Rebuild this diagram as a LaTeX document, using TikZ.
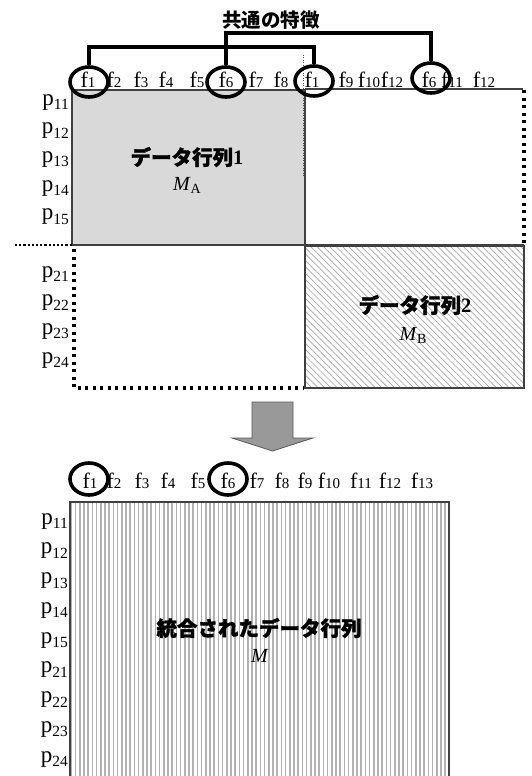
\documentclass[tikz,border=0pt]{standalone}
\usepackage{fontspec}
\setmainfont{Liberation Serif}
\newfontfamily\cjk{Noto Sans CJK JP}
\newfontfamily\cjkh{Noto Sans CJK JP}[BoldFeatures={FakeBold=1.6}]
\usetikzlibrary{shapes.geometric,patterns.meta,calc}
\newcommand\fl[1]{f{\fontsize{15}{15}\selectfont #1}}
\newcommand\pl[1]{p\raisebox{-4.5pt}{\fontsize{15.5}{15.5}\selectfont #1}}
\newcommand\msub[1]{\textit{M}\raisebox{-3pt}{\fontsize{14}{14}\selectfont #1}}
\tikzset{
  feat/.style={font=\fontsize{22}{22}\selectfont, inner sep=0pt, anchor=base},
  rowlab/.style={font=\fontsize{23}{23}\selectfont, inner sep=0pt, anchor=base east},
  ring/.style={ellipse, draw, line width=3.6pt, minimum width=38pt, minimum height=30pt, inner sep=0pt},
  bracket/.style={line width=3.4pt},
  bigdots/.style={line width=3.4pt, dash pattern=on 3.4pt off 4.1pt},
  smalldots/.style={line width=2.2pt, dash pattern=on 2.2pt off 2pt},
  title/.style={font=\cjkh\bfseries\fontsize{20.5}{20.5}\selectfont, inner sep=0pt},
  mlab/.style={font=\fontsize{20}{20}\selectfont, inner sep=0pt},
  frame/.style={draw=black!75, line width=1.1pt}
}
\begin{document}
\begin{tikzpicture}[x=1pt,y=-1pt]
\useasboundingbox (0,0) rectangle (532,776);
\clip (0,0) rectangle (532,776);

% ---------- top part ----------
\node[font=\cjk\bfseries\fontsize{19.5}{19.5}\selectfont, inner sep=0pt] (head) at (271,20) {共通の特徴};

% matrix A
\fill[black!15] (72,90) rectangle (305,245);
\draw[frame] (72,90) rectangle (305,245);
% right empty box
\draw[frame] (305,89) -- (523,89);
\draw[frame] (305,245) -- (524,245);
\draw[bigdots] (524,90) -- (524,246);
% thin dotted separator
\draw[black!70, line width=1pt, dash pattern=on 1pt off 1.5pt] (303.5,55) -- (303.5,177);
% left dotted
\draw[smalldots] (15,245) -- (72,245);
% matrix B
\fill[white] (305,246) rectangle (524,388);
\path[pattern={Lines[angle=-45,distance=4.5pt,line width=0.7pt]}, pattern color=black!35] (305,246) rectangle (524,388);
\draw[frame] (305,246) rectangle (524,388);
% bottom-left dotted box
\draw[bigdots] (74,249) -- (74,388) -- (303,388);

% feature labels top
\node[feat] (a1) at (88,88) {\fl{1}};
\node[feat] (a2) at (114,88) {\fl{2}};
\node[feat] (a3) at (141,88) {\fl{3}};
\node[feat] (a4) at (166,88) {\fl{4}};
\node[feat] (a5) at (197,88) {\fl{5}};
\node[feat] (a6) at (226,88) {\fl{6}};
\node[feat] (a7) at (256,88) {\fl{7}};
\node[feat] (a8) at (281,88) {\fl{8}};
\node[feat] (b1) at (312,88) {\fl{1}};
\node[feat] (b9) at (346,88) {\fl{9}};
\node[feat] (b10) at (369,88) {\fl{10}};
\node[feat] (b12a) at (392,88) {\fl{12}};
\node[feat] (b6) at (429,88) {\fl{6}};
\node[feat] (b11) at (452,88) {\fl{11}};
\node[feat] (b12) at (484,88) {\fl{12}};

% rings top
\node[ring] (c1) at (89,82) {};
\node[ring] (c2) at (226,82) {};
\node[ring] (c3) at (314,81) {};
\node[ring] (c4) at (431,78) {};

% brackets
\coordinate (h1) at (0,47);
\coordinate (h2) at (0,33);
\draw[bracket] (c1.north) -- (c1.north |- h1) -| (c3.north);
\draw[bracket] (c2.north) -- (c2.north |- h2) -| (c4.north);

% row labels top
\node[rowlab] (r11) at (69,105) {\pl{11}};
\node[rowlab] (r12) at (69,133.7) {\pl{12}};
\node[rowlab] (r13) at (69,162.4) {\pl{13}};
\node[rowlab] (r14) at (69,191.1) {\pl{14}};
\node[rowlab] (r15) at (69,219.8) {\pl{15}};
\node[rowlab] (r21) at (69,277) {\pl{21}};
\node[rowlab] (r22) at (69,305.7) {\pl{22}};
\node[rowlab] (r23) at (69,334.4) {\pl{23}};
\node[rowlab] (r24) at (69,363.1) {\pl{24}};

% matrix texts
\node[title] (ta) at (187,157) {データ行列{\rmfamily\bfseries 1}};
\node[mlab] (ma) at (187,185) {\msub{A}};
\node[title] (tb) at (415,305) {データ行列{\rmfamily\bfseries 2}};
\node[mlab] (mb) at (413,335) {\msub{B}};

% ---------- arrow ----------
\draw[fill=black!40, draw=black!65, line width=0.8pt]
  (252,402) -- (293,402) -- (293,438) -- (313,438) -- (272.5,451) -- (232,438) -- (252,438) -- cycle;

% ---------- bottom part ----------
\fill[white] (70,502) rectangle (449,790);
\path[pattern={Lines[angle=90,distance=4.2pt,line width=1.6pt]}, pattern color=black!30] (70,502) rectangle (449,790);
\draw[black!75, line width=1.1pt] (70,790) -- (70,502) -- (449,502) -- (449,790);

\node[feat] (d1) at (90,488) {\fl{1}};
\node[feat] (d2) at (114,488) {\fl{2}};
\node[feat] (d3) at (142,488) {\fl{3}};
\node[feat] (d4) at (168,488) {\fl{4}};
\node[feat] (d5) at (198,488) {\fl{5}};
\node[feat] (d6) at (228,488) {\fl{6}};
\node[feat] (d7) at (257,488) {\fl{7}};
\node[feat] (d8) at (282,488) {\fl{8}};
\node[feat] (d9) at (305,488) {\fl{9}};
\node[feat] (d10) at (329,488) {\fl{10}};
\node[feat] (d11) at (361,488) {\fl{11}};
\node[feat] (d12) at (390,488) {\fl{12}};
\node[feat] (d13) at (422,488) {\fl{13}};

\node[ring, minimum height=32pt] (c5) at (89,479) {};
\node[ring, minimum height=32pt] (c6) at (228,479) {};

\node[rowlab] (s11) at (68,524) {\pl{11}};
\node[rowlab] (s12) at (68,553.75) {\pl{12}};
\node[rowlab] (s13) at (68,583.5) {\pl{13}};
\node[rowlab] (s14) at (68,613.25) {\pl{14}};
\node[rowlab] (s15) at (68,643) {\pl{15}};
\node[rowlab] (s21) at (68,672.75) {\pl{21}};
\node[rowlab] (s22) at (68,702.5) {\pl{22}};
\node[rowlab] (s23) at (68,732.25) {\pl{23}};
\node[rowlab] (s24) at (68,762) {\pl{24}};

\node[title] (tm) at (259,628) {統合されたデータ行列};
\node[mlab] (mm) at (260,656) {\textit{M}};
\end{tikzpicture}
\end{document}
